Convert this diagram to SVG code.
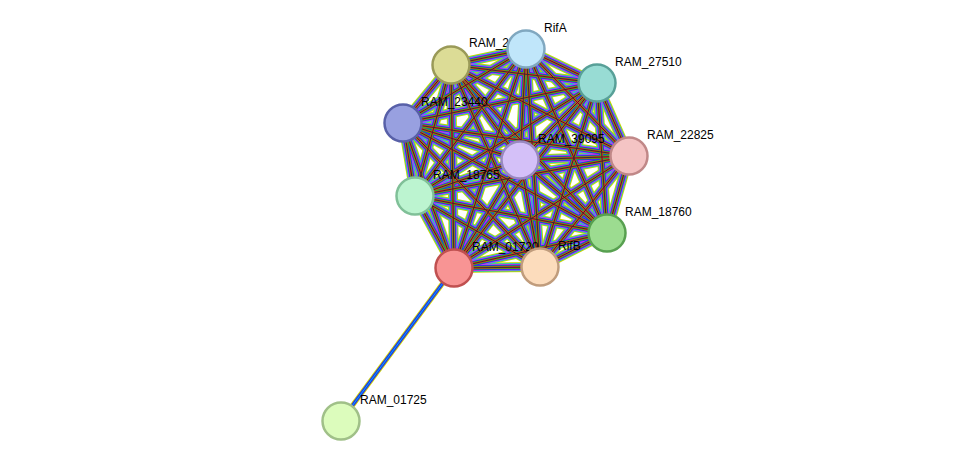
<svg xmlns="http://www.w3.org/2000/svg" xmlns:xlink="http://www.w3.org/1999/xlink" width="975" height="467" viewBox="0 0 975 467">
<style>
.n{stroke-width:2.5}
.t{font-family:"Liberation Sans",Arial,sans-serif;font-size:12px;fill:#000}
.e line{fill:none}
</style>
<defs>
<g id="E" class="e">
<line x1="451" y1="65" x2="526" y2="49"/><line x1="451" y1="65" x2="597" y2="83"/><line x1="451" y1="65" x2="403" y2="123"/><line x1="451" y1="65" x2="520" y2="160"/><line x1="451" y1="65" x2="629" y2="156"/><line x1="451" y1="65" x2="415" y2="196"/><line x1="451" y1="65" x2="607" y2="233"/><line x1="451" y1="65" x2="454" y2="268"/><line x1="451" y1="65" x2="540" y2="267"/>
<line x1="526" y1="49" x2="597" y2="83"/><line x1="526" y1="49" x2="403" y2="123"/><line x1="526" y1="49" x2="520" y2="160"/><line x1="526" y1="49" x2="629" y2="156"/><line x1="526" y1="49" x2="415" y2="196"/><line x1="526" y1="49" x2="607" y2="233"/><line x1="526" y1="49" x2="454" y2="268"/><line x1="526" y1="49" x2="540" y2="267"/>
<line x1="597" y1="83" x2="403" y2="123"/><line x1="597" y1="83" x2="520" y2="160"/><line x1="597" y1="83" x2="629" y2="156"/><line x1="597" y1="83" x2="415" y2="196"/><line x1="597" y1="83" x2="607" y2="233"/><line x1="597" y1="83" x2="454" y2="268"/><line x1="597" y1="83" x2="540" y2="267"/>
<line x1="403" y1="123" x2="520" y2="160"/><line x1="403" y1="123" x2="629" y2="156"/><line x1="403" y1="123" x2="415" y2="196"/><line x1="403" y1="123" x2="607" y2="233"/><line x1="403" y1="123" x2="454" y2="268"/><line x1="403" y1="123" x2="540" y2="267"/>
<line x1="520" y1="160" x2="629" y2="156"/><line x1="520" y1="160" x2="415" y2="196"/><line x1="520" y1="160" x2="607" y2="233"/><line x1="520" y1="160" x2="454" y2="268"/><line x1="520" y1="160" x2="540" y2="267"/>
<line x1="629" y1="156" x2="415" y2="196"/><line x1="629" y1="156" x2="607" y2="233"/><line x1="629" y1="156" x2="454" y2="268"/><line x1="629" y1="156" x2="540" y2="267"/>
<line x1="415" y1="196" x2="607" y2="233"/><line x1="415" y1="196" x2="454" y2="268"/><line x1="415" y1="196" x2="540" y2="267"/>
<line x1="607" y1="233" x2="454" y2="268"/><line x1="607" y1="233" x2="540" y2="267"/>
<line x1="454" y1="268" x2="540" y2="267"/>
</g>
</defs>
<rect width="975" height="467" fill="#fff"/>
<g id="connectors">
<use xlink:href="#E" style="stroke:#c8d200;stroke-width:10"/>
<use xlink:href="#E" style="stroke:#00c8e0;stroke-width:8"/>
<use xlink:href="#E" style="stroke:#e030e0;stroke-width:6.5"/>
<use xlink:href="#E" style="stroke:#2020ff;stroke-width:5"/>
<use xlink:href="#E" style="stroke:#20c020;stroke-width:3.5"/>
<use xlink:href="#E" style="stroke:#ff2020;stroke-width:2"/>
<use xlink:href="#E" style="stroke:#303030;stroke-width:1"/>
<line x1="454" y1="268" x2="341" y2="421" stroke="#c8d200" stroke-width="5"/>
<line x1="454" y1="268" x2="341" y2="421" stroke="#2020ff" stroke-width="3"/>
<line x1="454" y1="268" x2="341" y2="421" stroke="#00c8e0" stroke-width="1"/>
</g>
<g id="n-ram2"><circle class="n" cx="451" cy="65" r="18.5" fill="#dcdc96" stroke="#9a9a58"/><text class="t" x="469" y="47">RAM_2</text></g>
<g id="n-rifa"><circle class="n" cx="526" cy="49" r="18.5" fill="#c0e6fa" stroke="#80a8c0"/><text class="t" x="544" y="32">RifA</text></g>
<g id="n-27510"><circle class="n" cx="597" cy="83" r="18.5" fill="#98dcd4" stroke="#58a098"/><text class="t" x="615" y="66">RAM_27510</text></g>
<g id="n-23440"><circle class="n" cx="403" cy="123" r="18.5" fill="#98a0e0" stroke="#5860a8"/><text class="t" x="421" y="106">RAM_23440</text></g>
<g id="n-39095"><circle class="n" cx="520" cy="160" r="18.5" fill="#d4c0f8" stroke="#9888c0"/><text class="t" x="538" y="143">RAM_39095</text></g>
<g id="n-22825"><circle class="n" cx="629" cy="156" r="18.5" fill="#f4c4c4" stroke="#c08888"/><text class="t" x="647" y="139">RAM_22825</text></g>
<g id="n-18765"><circle class="n" cx="415" cy="196" r="18.5" fill="#bcf4d0" stroke="#80c098"/><text class="t" x="433" y="179">RAM_18765</text></g>
<g id="n-18760"><circle class="n" cx="607" cy="233" r="18.5" fill="#9cdc90" stroke="#58a050"/><text class="t" x="625" y="216">RAM_18760</text></g>
<g id="n-01720"><circle class="n" cx="454" cy="268" r="18.5" fill="#f89494" stroke="#c05050"/><text class="t" x="472" y="251">RAM_01720</text></g>
<g id="n-rifb"><circle class="n" cx="540" cy="267" r="18.5" fill="#fcdcbc" stroke="#c09c7c"/><text class="t" x="558" y="250">RifB</text></g>
<g id="n-01725"><circle class="n" cx="341" cy="421" r="18.5" fill="#dcfcbc" stroke="#a0c088"/><text class="t" x="360" y="404">RAM_01725</text></g>
</svg>
